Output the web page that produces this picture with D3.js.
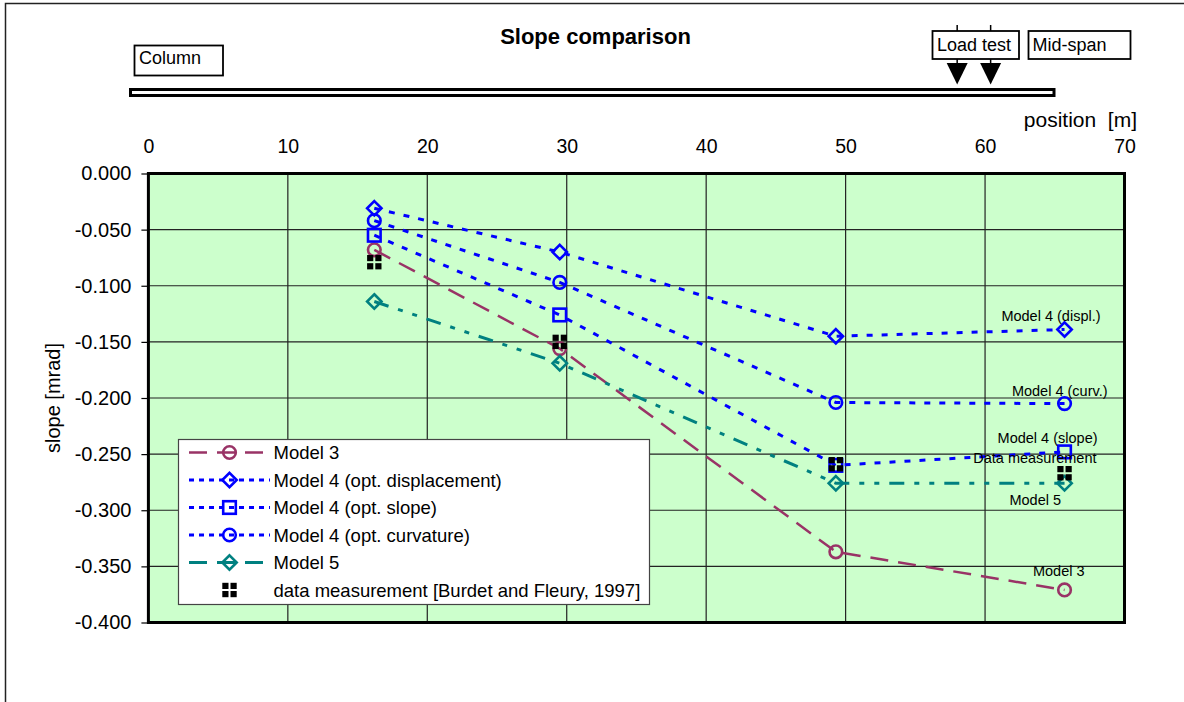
<!DOCTYPE html>
<html>
<head>
<meta charset="utf-8">
<script src="https://cdn.jsdelivr.net/npm/d3@7"></script>
<style>
  html, body { margin: 0; padding: 0; background: #fff; }
  svg { display: block; font-family: "Liberation Sans", Arial, sans-serif; }
</style>
</head>
<body>
<svg id="chart" width="1184" height="702"></svg>
<script>
// ---------------- data ----------------
const title = "Slope comparison";
const positions = [16.2, 29.5, 49.3, 65.7];           // position [m]
const model3     = [-0.068, -0.156, -0.337, -0.371];
const model4Disp = [-0.031, -0.070, -0.145, -0.139];
const model4Slope= [-0.055, -0.126, -0.260, -0.248];
const model4Curv = [-0.042, -0.097, -0.204, -0.205];
const model5     = [-0.114, -0.169, -0.276, -0.276];
const measured   = [-0.079, -0.150, -0.259, -0.267];
const xTicks = [0, 10, 20, 30, 40, 50, 60, 70];
const yTicks = [0, -0.05, -0.1, -0.15, -0.2, -0.25, -0.3, -0.35, -0.4];
const seriesNames = ["Model 3", "Model 4 (opt. displacement)", "Model 4 (opt. slope)",
                     "Model 4 (opt. curvature)", "Model 5", "data measurement [Burdet and Fleury, 1997]"];
const endLabels = ["Model 3", "Model 4 (displ.)", "Model 4 (slope)", "Model 4 (curv.)", "Model 5", "Data measurement"];
const loadTestPositions = [58.0, 60.4];

// ---------------- layout ----------------
const svg = d3.select("#chart");
const x = d3.scaleLinear().domain([0, 70]).range([148.4, 1124.5]);
const y = d3.scaleLinear().domain([0, -0.4]).range([173.5, 622.5]);

const series = [
  {name: seriesNames[0], vals: model3,      color: "#993366", dash: "18,10", ldash: "18,10", marker: "circle",  width: 2.5, label: endLabels[0], dx: 20, dy: -14},
  {name: seriesNames[1], vals: model4Disp,  color: "#0000FF", dash: "6,9",   ldash: "5,5",   marker: "diamond", width: 3,   label: endLabels[1], dx: 36, dy: -9},
  {name: seriesNames[2], vals: model4Slope, color: "#0000FF", dash: "6,9",   ldash: "5,5",   marker: "square",  width: 3,   label: endLabels[2], dx: 33, dy: -9},
  {name: seriesNames[3], vals: model4Curv,  color: "#0000FF", dash: "6,9",   ldash: "5,5",   marker: "circle",  width: 3,   label: endLabels[3], dx: 43, dy: -7.5},
  {name: seriesNames[4], vals: model5,      color: "#008080", dash: "15,10,5,10,5,10", ldash: "18,10", marker: "diamond", width: 3, label: endLabels[4], dx: -3.5, dy: 21.5},
];

// outer frame
svg.append("path").attr("d", "M5.5,702 L5.5,3.5 L1184,3.5")
  .attr("fill", "none").attr("stroke", "#222").attr("stroke-width", 1.5);

// title
svg.append("text").attr("x", 595.5).attr("y", 43.5).attr("text-anchor", "middle")
  .attr("font-size", 22).attr("font-weight", "bold").text(title);

// annotation boxes
function box(x0, y0, w, h, txt, tx, ty) {
  svg.append("rect").attr("x", x0).attr("y", y0).attr("width", w).attr("height", h)
    .attr("fill", "#fff").attr("stroke", "#000").attr("stroke-width", 1.8);
  svg.append("text").attr("x", tx).attr("y", ty).attr("font-size", 18).text(txt);
}
// load arrows (lines behind box)
loadTestPositions.forEach(p => {
  const px = x(p);
  svg.append("line").attr("x1", px).attr("x2", px).attr("y1", 25).attr("y2", 64)
    .attr("stroke", "#000").attr("stroke-width", 1.5);
  svg.append("path").attr("d", `M${px - 10.5},63 L${px + 10.5},63 L${px},84.5 Z`).attr("fill", "#000");
});
box(134.5, 45.5, 88.5, 30, "Column", 139, 64);
box(932.5, 31, 86.5, 28, "Load test", 937, 50.5);
box(1028.5, 31, 102, 28, "Mid-span", 1032.5, 50.5);

// beam
svg.append("rect").attr("x", 130.5).attr("y", 89.5).attr("width", 923.5).attr("height", 6)
  .attr("fill", "#fff").attr("stroke", "#000").attr("stroke-width", 3);

// plot background
const [X0, X1] = x.range(), [Y0, Y1] = y.range();
svg.append("rect").attr("x", X0).attr("y", Y0).attr("width", X1 - X0).attr("height", Y1 - Y0)
  .attr("fill", "#CCFFCC");

// grid
svg.append("g").selectAll("line").data(xTicks.slice(1, -1)).join("line")
  .attr("x1", d => x(d)).attr("x2", d => x(d)).attr("y1", Y0).attr("y2", Y1)
  .attr("stroke", "#222").attr("stroke-width", 1.2);
svg.append("g").selectAll("line").data(yTicks.slice(1, -1)).join("line")
  .attr("x1", X0).attr("x2", X1).attr("y1", d => y(d)).attr("y2", d => y(d))
  .attr("stroke", "#222").attr("stroke-width", 1.2);

// y axis
const yAxis = d3.axisLeft(y).tickValues(yTicks).tickSize(7).tickPadding(10)
  .tickFormat(d3.format(".3f"));
const gy = svg.append("g").attr("transform", `translate(${X0},0)`).call(yAxis);
gy.select(".domain").remove();
gy.selectAll(".tick line").attr("stroke", "#000").attr("stroke-width", 1.2);
gy.selectAll(".tick text").attr("font-size", 20).attr("fill", "#000")
  .attr("font-family", "Liberation Sans, Arial, sans-serif")
  .text(d => d3.format(".3f")(d).replace("−", "-"));

// top axis (labels only)
const xAxis = d3.axisTop(x).tickValues(xTicks).tickSize(0).tickPadding(21);
const gx = svg.append("g").attr("transform", `translate(0,${Y0})`).call(xAxis);
gx.select(".domain").remove();
gx.selectAll(".tick text").attr("font-size", 19.5).attr("fill", "#000")
  .attr("font-family", "Liberation Sans, Arial, sans-serif");

svg.append("text").attr("x", 1137).attr("y", 127).attr("text-anchor", "end")
  .attr("font-size", 21).attr("xml:space", "preserve").style("white-space", "pre")
  .text("position  [m]");

svg.append("text").attr("transform", `translate(60,398) rotate(-90)`).attr("text-anchor", "middle")
  .attr("font-size", 20).text("slope [mrad]");

// plot border
svg.append("rect").attr("x", X0).attr("y", Y0).attr("width", X1 - X0).attr("height", Y1 - Y0)
  .attr("fill", "none").attr("stroke", "#000").attr("stroke-width", 3);

// markers
function drawMarker(g, type, cx, cy, color) {
  if (type === "circle") {
    g.append("circle").attr("cx", cx).attr("cy", cy).attr("r", 6.3)
      .attr("fill", "none").attr("stroke", color).attr("stroke-width", 2.6);
  } else if (type === "diamond") {
    const r = 7.2;
    g.append("path").attr("d", `M${cx},${cy - r} L${cx + r},${cy} L${cx},${cy + r} L${cx - r},${cy} Z`)
      .attr("fill", "none").attr("stroke", color).attr("stroke-width", 2.6);
  } else if (type === "square") {
    const s = 12.6;
    g.append("rect").attr("x", cx - s / 2).attr("y", cy - s / 2).attr("width", s).attr("height", s)
      .attr("fill", "none").attr("stroke", color).attr("stroke-width", 2.6);
  } else if (type === "data") {
    const s = 6.2, gap = 2;
    [[-1, -1], [1, -1], [-1, 1], [1, 1]].forEach(([a, b]) => {
      g.append("rect")
        .attr("x", a < 0 ? cx - gap / 2 - s : cx + gap / 2)
        .attr("y", b < 0 ? cy - gap / 2 - s : cy + gap / 2)
        .attr("width", s).attr("height", s).attr("fill", "#000");
    });
  }
}

const line = d3.line().x(d => x(d[0])).y(d => y(d[1]));
const plot = svg.append("g");
series.forEach(s => {
  const pts = positions.map((p, i) => [p, s.vals[i]]);
  plot.append("path").attr("d", line(pts)).attr("fill", "none")
    .attr("stroke", s.color).attr("stroke-width", s.width).attr("stroke-dasharray", s.dash);
  pts.forEach(p => drawMarker(plot, s.marker, x(p[0]), y(p[1]), s.color));
});
positions.forEach((p, i) => drawMarker(plot, "data", x(p), y(measured[i]), "#000"));

// end labels
const lastX = x(positions[positions.length - 1]);
series.forEach(s => {
  svg.append("text").attr("x", lastX + s.dx).attr("y", y(s.vals[s.vals.length - 1]) + s.dy)
    .attr("text-anchor", "end").attr("font-size", 14.5).text(s.label);
});
svg.append("text").attr("x", lastX + 32).attr("y", y(measured[measured.length - 1]) - 10.5)
  .attr("text-anchor", "end").attr("font-size", 14.5).text(endLabels[5]);

// legend
const lg = svg.append("g");
lg.append("rect").attr("x", 178.5).attr("y", 439.5).attr("width", 471).attr("height", 165)
  .attr("fill", "#fff").attr("stroke", "#444").attr("stroke-width", 1.2);
const rowY = i => 452.5 + i * 27.5;
series.forEach((s, i) => {
  const yy = rowY(i);
  lg.append("line").attr("x1", 189).attr("x2", 270).attr("y1", yy).attr("y2", yy)
    .attr("stroke", s.color).attr("stroke-width", s.width).attr("stroke-dasharray", s.ldash);
  drawMarker(lg, s.marker, 229.5, yy, s.color);
  lg.append("text").attr("x", 273.5).attr("y", yy).attr("dy", "0.36em").attr("font-size", 18.5).text(s.name);
});
drawMarker(lg, "data", 229.5, rowY(5), "#000");
lg.append("text").attr("x", 273.5).attr("y", rowY(5)).attr("dy", "0.36em").attr("font-size", 18.5).text(seriesNames[5]);
</script>
</body>
</html>
